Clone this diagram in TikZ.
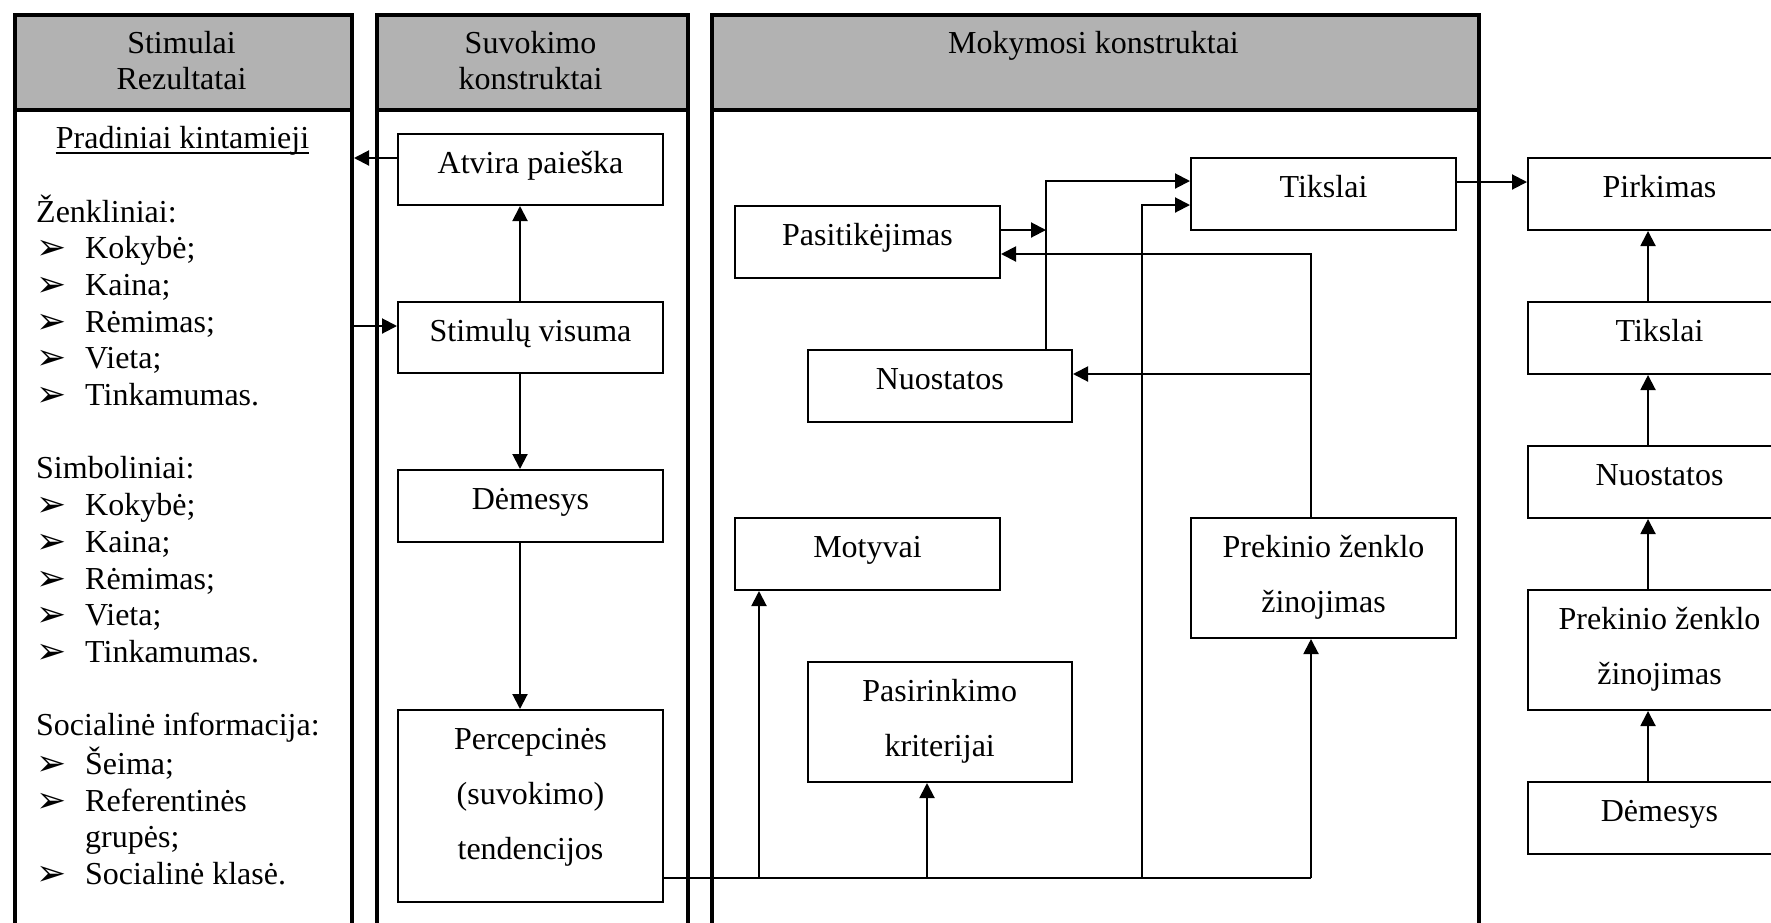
\documentclass[tikz,border=0pt]{standalone}
\usepackage{fontspec}
\setmainfont{Liberation Serif}
\newfontfamily\dejavu{DejaVu Sans}
\usetikzlibrary{arrows.meta}

% list bullet with a hanging indent
\newcommand\bl{\makebox[49pt][l]{\raisebox{-1pt}{\dejavu\fontsize{36}{36}\selectfont ➢}}}
\newcommand\ind{\hspace*{49pt}}

% framed box with its text set from a fixed first baseline
% #1 name, #2 x, #3 y (top left), #4 width, #5 height, #6 text
\newcommand\bx[6]{%
  \node[boxs, minimum width=#4, minimum height=#5] (#1) at (#2,#3) {};
  \node[txt, anchor=base] (#1-t) at ([yshift=-40pt]#1.north)
    {\begin{tabular}[t]{@{}c@{}}#6\end{tabular}};}

\begin{document}
\begin{tikzpicture}[x=1pt,y=-1pt,
  colframe/.style={draw, line width=4pt, inner sep=0, anchor=north west},
  hdr/.style={colframe, fill=black!30},
  boxs/.style={draw, line width=2pt, inner sep=0, anchor=north west, fill=white},
  txt/.style={inner sep=0, font=\fontsize{32}{55}\selectfont},
  arr/.style={line width=2pt, -{Triangle[length=15pt,width=15pt]}},
  ln/.style={line width=2pt}]
\useasboundingbox (0,0) rectangle (1771,922);

% three framed columns with grey headings
\node[colframe, minimum width=337, minimum height=947] (col1) at (13,13) {};
\node[colframe, minimum width=311, minimum height=947] (col2) at (375,13) {};
\node[colframe, minimum width=767, minimum height=947] (col3) at (710,13) {};
\node[hdr, minimum width=337, minimum height=95] (col1h) at (13,13) {};
\node[hdr, minimum width=311, minimum height=95] (col2h) at (375,13) {};
\node[hdr, minimum width=767, minimum height=95] (col3h) at (710,13) {};

\node[txt, anchor=base] (h1) at (181.5,53)
  {\fontsize{32}{36}\selectfont\begin{tabular}[t]{@{}c@{}}Stimulai\\Rezultatai\end{tabular}};
\node[txt, anchor=base] (h2) at (530.5,53)
  {\fontsize{32}{36}\selectfont\begin{tabular}[t]{@{}c@{}}Suvokimo\\konstruktai\end{tabular}};
\node[txt, anchor=base] (h3) at (1093.5,53) {Mokymosi konstruktai};

% input variables
\node[txt, anchor=base] (prad) at (182.5,148) {Pradiniai kintamieji};
\draw[line width=1.6pt] ([yshift=-5pt]prad.base west) -- ([yshift=-5pt]prad.base east);
\node[txt, anchor=base west] (list) at (36,222)
  {\fontsize{32}{36.7}\selectfont\begin{tabular}[t]{@{}l@{}}
   Ženkliniai:\\
   \bl Kokybė;\\
   \bl Kaina;\\
   \bl Rėmimas;\\
   \bl Vieta;\\
   \bl Tinkamumas.\\
   \\
   Simboliniai:\\
   \bl Kokybė;\\
   \bl Kaina;\\
   \bl Rėmimas;\\
   \bl Vieta;\\
   \bl Tinkamumas.\\
   \\
   Socialinė informacija:\\
   \bl Šeima;\\
   \bl Referentinės\\
   \ind grupės;\\
   \bl Socialinė klasė.
  \end{tabular}};

% perception constructs
\bx{atv}{397}{133}{265}{71}{Atvira paieška}
\bx{stim}{397}{301}{265}{71}{Stimulų visuma}
\bx{dem}{397}{469}{265}{72}{Dėmesys}
\bx{perc}{397}{709}{265}{192}{Percepcinės\\(suvokimo)\\tendencijos}

% learning constructs
\bx{pas}{734}{205}{265}{72}{Pasitikėjimas}
\bx{tik}{1190}{157}{265}{72}{Tikslai}
\bx{nuo}{806.5}{349}{264.5}{72}{Nuostatos}
\bx{mot}{734}{517}{265}{72}{Motyvai}
\bx{pzz}{1190}{517}{265}{120}{Prekinio ženklo\\žinojimas}
\bx{kri}{806.5}{661}{264.5}{120}{Pasirinkimo\\kriterijai}

% outputs
\bx{rpir}{1527}{157}{263}{72}{Pirkimas}
\bx{rtik}{1527}{301}{263}{72}{Tikslai}
\bx{rnuo}{1527}{445}{263}{72}{Nuostatos}
\bx{rpzz}{1527}{589}{263}{120}{Prekinio ženklo\\žinojimas}
\bx{rdem}{1527}{781}{263}{72}{Dėmesys}

% perception connectors
\coordinate (a1) at ([yshift=11.5pt]atv.west);
\draw[arr] (a1) -- (a1 -| col1.east);
\coordinate (s1) at ([yshift=11.5pt]stim.west);
\draw[arr] (s1 -| col1.east) -- (s1);
\draw[arr] ([xshift=-10.5pt]stim.north) -- ([xshift=-10.5pt]atv.south);
\draw[arr] ([xshift=-10.5pt]stim.south) -- ([xshift=-10.5pt]dem.north);
\draw[arr] ([xshift=-10.5pt]dem.south) -- ([xshift=-10.5pt]perc.north);

% learning connectors
\coordinate (bus) at ([yshift=-72pt]perc.east);
\coordinate (m1) at ([xshift=25pt]mot.south west);
\coordinate (k1) at ([xshift=120.5pt]kri.south west);
\coordinate (z1) at ([xshift=121pt]pzz.south west);
\coordinate (z2) at ([xshift=121pt]pzz.north west);
\coordinate (jx) at (1142,205);
\coordinate (t1) at ([yshift=-24pt]tik.north west);
\coordinate (t2) at ([yshift=-48pt]tik.north west);
\coordinate (n1) at ([xshift=239.5pt]nuo.north west);
\coordinate (n2) at ([yshift=12pt]nuo.east);
\coordinate (p1) at ([yshift=12pt]pas.east);
\coordinate (p2) at ([yshift=-12pt]pas.east);
\coordinate (tr) at ([yshift=12pt]tik.east);

\draw[ln] (bus) -- (bus -| z1);
\draw[arr] (bus -| m1) -- (m1);
\draw[arr] (bus -| k1) -- (k1);
\draw[arr] (bus -| z1) -- (z1);
\draw[arr] (bus -| jx) |- (t2);
\draw[arr] (n1) |- (t1);
\draw[arr] (p1) -- (p1 -| n1);
\draw[arr] (z2) |- (p2);
\draw[arr] (n2 -| z2) -- (n2);
\draw[arr] (tr) -- (tr -| rpir.west);

% output chain
\draw[arr] ([xshift=-11.5pt]rdem.north) -- ([xshift=-11.5pt]rpzz.south);
\draw[arr] ([xshift=-11.5pt]rpzz.north) -- ([xshift=-11.5pt]rnuo.south);
\draw[arr] ([xshift=-11.5pt]rnuo.north) -- ([xshift=-11.5pt]rtik.south);
\draw[arr] ([xshift=-11.5pt]rtik.north) -- ([xshift=-11.5pt]rpir.south);
\end{tikzpicture}
\end{document}
